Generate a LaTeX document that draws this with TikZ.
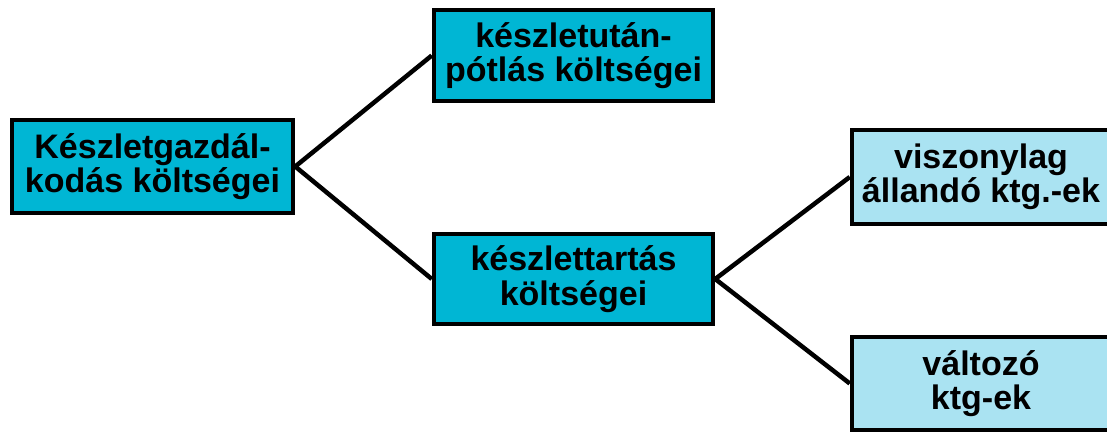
\documentclass[tikz,border=0pt]{standalone}
\usepackage{fontspec}
\setmainfont{Liberation Sans}
\definecolor{darkbox}{RGB}{0,182,212}
\definecolor{lightbox}{RGB}{170,227,242}
\begin{document}
\begin{tikzpicture}[x=1pt,y=-1pt,
  box/.style={draw=black,line width=4.5pt,rectangle,align=center,
    font=\fontsize{34}{34.5}\selectfont\bfseries,inner sep=0pt},
  dbox/.style={box,fill=darkbox},
  lbox/.style={box,fill=lightbox},
  conn/.style={line width=4.5pt,black}]
\useasboundingbox (0,0) rectangle (1107,434);
\clip (0,0) rectangle (1107,434);
\node[dbox,minimum width=281pt,minimum height=93pt] (A) at (152.5,166.5) {Készletgazdál-\\kodás költségei};
\node[dbox,minimum width=279pt,minimum height=91pt] (B) at (573.5,55.5) {készletután-\\pótlás költségei};
\node[dbox,minimum width=279pt,minimum height=90pt] (C) at (573.5,279) {készlettartás\\költségei};
\node[lbox,minimum width=258pt,minimum height=94pt] (D) at (981,177) {viszonylag\\állandó ktg.-ek};
\node[lbox,minimum width=258pt,minimum height=93pt] (E) at (981,383.5) {változó\\ktg-ek};
\draw[conn] (A.east) -- (B.west);
\draw[conn] (A.east) -- (C.west);
\draw[conn] (C.east) -- (D.west);
\draw[conn] (C.east) -- (E.west);
\end{tikzpicture}
\end{document}
